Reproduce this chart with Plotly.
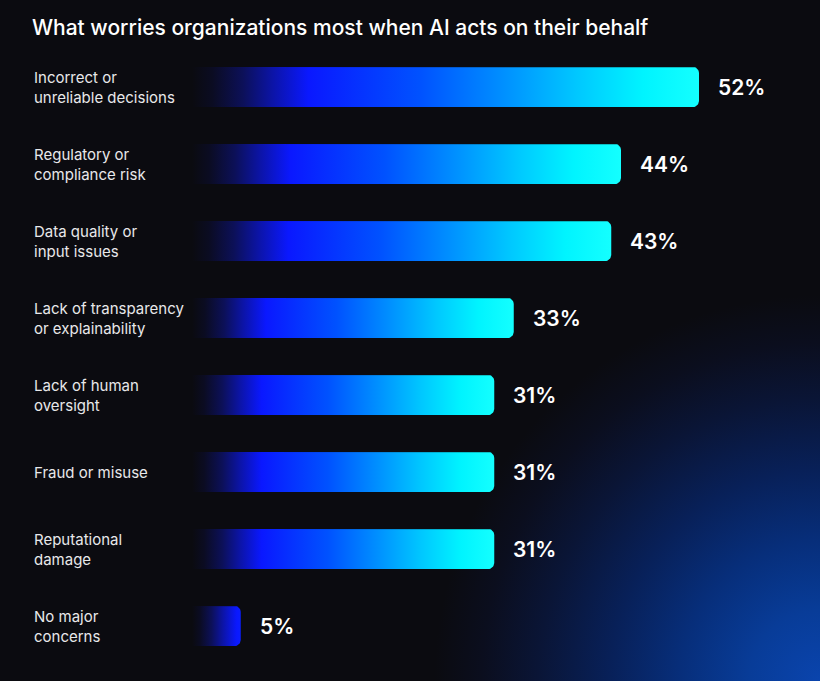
import numpy as np
import plotly.graph_objects as go

# chart data
categories = [
    "Incorrect or<br>unreliable decisions",
    "Regulatory or<br>compliance risk",
    "Data quality or<br>input issues",
    "Lack of transparency<br>or explainability",
    "Lack of human<br>oversight",
    "Fraud or misuse",
    "Reputational<br>damage",
    "No major<br>concerns",
]
values = [52, 44, 43, 33, 31, 31, 31, 5]
value_labels = [f"{v}%" for v in values]

W, H = 820, 681
BG = "#0b0b10"
FONT = "Inter"

# pixel layout of the bar area
x_base_px = 192      # where bars start
px_per_pct = 9.75
y_first_px = 87      # center of first bar
row_px = 77
bar_h_px = 40
corner_px = 6

x_max = (W - x_base_px) / px_per_pct
y_top = -y_first_px / row_px
y_bot = (H - y_first_px) / row_px

bar_scale = [
    [0.0, BG],
    [0.04, "#0b0c22"],
    [0.10, "#0c1058"],
    [0.16, "#0c14a8"],
    [0.23, "#0a18ff"],
    [0.45, "#0052ff"],
    [0.62, "#0092ff"],
    [0.76, "#00c8ff"],
    [0.89, "#00f4ff"],
    [1.0, "#14ffff"],
]


def bar_outline(i, v):
    # bar polygon with rounded right-hand corners, in data units
    h = bar_h_px / 2 / row_px
    rx = corner_px / px_per_pct
    ry = corner_px / row_px
    t = np.linspace(0, np.pi / 2, 10)
    xs = [0, v - rx]
    ys = [i - h, i - h]
    xs += list(v - rx + rx * np.sin(t))
    ys += list(i - h + ry - ry * np.cos(t))
    xs += list(v - rx + rx * np.cos(t))
    ys += list(i + h - ry + ry * np.sin(t))
    xs += [0, 0]
    ys += [i + h, i - h]
    return xs, ys


fig = go.Figure()

# soft blue glow in the bottom-right corner (background layer)
g = 470
fig.add_trace(go.Scatter(
    x=[W - g, W + g, W + g, W - g, W - g],
    y=[-g, -g, g, g, -g],
    mode="lines", fill="toself", line=dict(width=0),
    fillgradient=dict(type="radial", colorscale=[
        [0.0, "#0a44ad"], [0.15, "#083c98"], [0.30, "#072e7a"],
        [0.45, "#082058"], [0.60, "#0a1536"], [0.72, "#0b0e1e"],
        [0.82, BG], [1.0, BG],
    ]),
    hoverinfo="skip", showlegend=False, xaxis="x", yaxis="y",
))

for i, v in enumerate(values):
    xs, ys = bar_outline(i, v)
    fig.add_trace(go.Scatter(
        x=xs, y=ys, mode="lines", fill="toself", line=dict(width=0),
        fillgradient=dict(type="horizontal", colorscale=bar_scale,
                          start=0, stop=max(v, 20)),
        hoverinfo="skip", showlegend=False, xaxis="x2", yaxis="y2",
    ))

annotations = []
for i, (cat, lab, v) in enumerate(zip(categories, value_labels, values)):
    annotations.append(dict(
        text=cat, xref="paper", x=32 / W, xanchor="left",
        yref="y2", y=i, yanchor="middle", align="left", showarrow=False,
        font=dict(family=FONT, size=15, color="#e8e8ea"),
    ))
    annotations.append(dict(
        text=lab, xref="x2", x=v, xshift=17, xanchor="left",
        yref="y2", y=i, yanchor="middle", showarrow=False,
        font=dict(family=FONT, size=21, color="#ffffff", weight=600),
    ))

hidden = dict(visible=False, showgrid=False, zeroline=False, fixedrange=True)

fig.update_layout(
    width=W, height=H,
    margin=dict(l=0, r=0, t=0, b=0),
    paper_bgcolor=BG, plot_bgcolor="rgba(0,0,0,0)",
    title=dict(
        text="What worries organizations most when AI acts on their behalf",
        x=32 / W, xanchor="left", xref="paper",
        y=1 - 28 / H, yanchor="middle", yref="paper",
        font=dict(family=FONT, size=21, color="#ffffff", weight=500),
    ),
    xaxis=dict(domain=[0, 1], range=[0, W], **hidden),
    yaxis=dict(domain=[0, 1], range=[0, H], **hidden),
    xaxis2=dict(domain=[x_base_px / W, 1], range=[0, x_max], anchor="y2", **hidden),
    yaxis2=dict(domain=[0, 1], range=[y_bot, y_top], anchor="x2", **hidden),
    annotations=annotations,
)

# drop the default page margin so the figure fills the window
fig.write_html(
    "out.html",
    config={"displayModeBar": False},
    post_script="document.body.style.margin='0';",
)
